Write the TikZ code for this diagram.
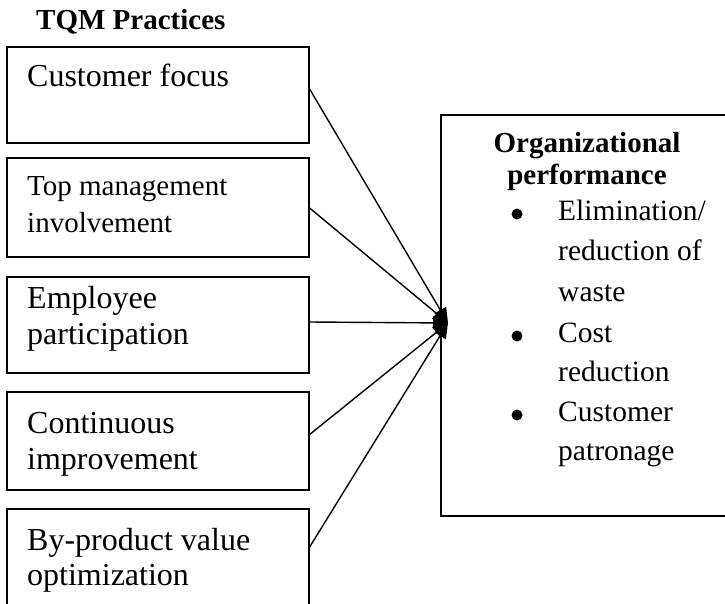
\documentclass[tikz,border=0pt]{standalone}
\usepackage{fontspec}
\setmainfont{Liberation Serif}
\usetikzlibrary{arrows.meta}

% Multi-line label whose base anchor sits on the first line's baseline
\newcommand{\lines}[2][300pt]{\parbox[t]{#1}{\raggedright #2}}

\begin{document}
\begin{tikzpicture}[x=1pt,y=-1pt,
  frame/.style={draw,line width=1.8pt,inner sep=0pt,outer sep=0pt,anchor=north west},
  practice/.style={frame,minimum width=302pt},
  lbl/.style={anchor=base west,inner sep=0pt,font=\fontsize{32}{36.5}\selectfont},
  smalllbl/.style={anchor=base west,inner sep=0pt,font=\fontsize{29}{36}\selectfont},
  heading/.style={anchor=base,inner sep=0pt,font=\bfseries\fontsize{29}{32}\selectfont},
  item/.style={anchor=base west,inner sep=0pt,font=\fontsize{29.5}{40.5}\selectfont},
  dot/.style={circle,fill,inner sep=0pt,minimum size=11pt},
  link/.style={line width=1.4pt,-{Triangle[length=15pt,width=13pt]}}
]
\path[use as bounding box,clip] (0,0) rectangle (725,604);

% Column heading
\node[heading,anchor=base west] (title) at (36,30) {TQM Practices};

% Practice boxes
\node[practice,minimum height=96pt]  (b1) at (7,47)  {};
\node[practice,minimum height=99pt]  (b2) at (7,158) {};
\node[practice,minimum height=96pt]  (b3) at (7,277) {};
\node[practice,minimum height=98pt]  (b4) at (7,392) {};
\node[practice,minimum height=101pt] (b5) at (7,509) {};

\node[lbl]      (t1) at (27,87)  {\lines{Customer focus}};
\node[smalllbl] (t2) at (27,196) {\lines{Top management\\involvement}};
\node[lbl]      (t3) at (27,308) {\lines{Employee\\participation}};
\node[lbl]      (t4) at (27,433) {\lines{Continuous\\improvement}};
\node[lbl,font=\fontsize{32}{35}\selectfont] (t5) at (27,550) {\lines{By-product value\\optimization}};

% Outcome box (runs past the right edge)
\node[frame,minimum width=310pt,minimum height=401pt] (perf) at (441,115) {};
\node[heading] (h1) at (587,153) {\lines[250pt]{\centering Organizational\\performance}};

\node[dot]  (d1) at (517,214) {};
\node[dot]  (d2) at (517,336) {};
\node[dot]  (d3) at (517,415) {};
\node[item] (i1) at (558,220) {\lines[160pt]{Elimination/\\reduction of\\waste}};
\node[item,font=\fontsize{29.5}{39}\selectfont] (i2) at (558,342) {\lines[160pt]{Cost\\reduction}};
\node[item,font=\fontsize{29.5}{39}\selectfont] (i3) at (558,421) {\lines[160pt]{Customer\\patronage}};

% Converging links
\coordinate (hub) at (448,323);
\draw[link] ([yshift=7pt]b1.east) -- (hub);
\draw[link] (b2.east) -- (hub);
\draw[link] ([yshift=3pt]b3.east) -- (hub);
\draw[link] ([yshift=6pt]b4.east) -- (hub);
\draw[link] ([yshift=11.5pt]b5.east) -- (hub);
\end{tikzpicture}
\end{document}
